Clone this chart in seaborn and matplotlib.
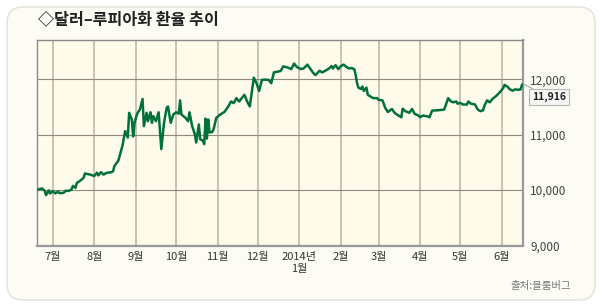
import matplotlib
matplotlib.use('Agg')
import matplotlib.pyplot as plt
import seaborn as sns
import pandas as pd
from matplotlib.patches import FancyBboxPatch

# ---- data ----
dates = [
    '2013-06-20', '2013-06-23', '2013-06-25', '2013-06-26', '2013-06-28', '2013-06-29',
    '2013-07-01', '2013-07-03', '2013-07-05', '2013-07-06', '2013-07-09', '2013-07-11',
    '2013-07-13', '2013-07-15', '2013-07-16', '2013-07-18', '2013-07-19', '2013-07-21',
    '2013-07-24', '2013-07-25', '2013-07-29', '2013-08-01', '2013-08-03', '2013-08-04',
    '2013-08-06', '2013-08-08', '2013-08-10', '2013-08-14', '2013-08-15', '2013-08-16',
    '2013-08-19', '2013-08-21', '2013-08-22', '2013-08-24', '2013-08-26', '2013-08-27',
    '2013-08-29', '2013-08-30', '2013-08-31', '2013-09-02', '2013-09-04', '2013-09-06',
    '2013-09-07', '2013-09-09', '2013-09-10', '2013-09-12', '2013-09-13', '2013-09-14',
    '2013-09-16', '2013-09-18', '2013-09-20', '2013-09-22', '2013-09-24', '2013-09-25',
    '2013-09-27', '2013-09-29', '2013-10-01', '2013-10-03', '2013-10-04', '2013-10-05',
    '2013-10-08', '2013-10-10', '2013-10-11', '2013-10-13', '2013-10-15', '2013-10-16',
    '2013-10-18', '2013-10-19', '2013-10-21', '2013-10-22', '2013-10-23', '2013-10-24',
    '2013-10-25', '2013-10-26', '2013-10-28', '2013-10-29', '2013-10-31', '2013-11-03',
    '2013-11-06', '2013-11-09', '2013-11-11', '2013-11-13', '2013-11-15', '2013-11-17',
    '2013-11-20', '2013-11-21', '2013-11-23', '2013-11-25', '2013-11-28', '2013-11-30',
    '2013-12-02', '2013-12-04', '2013-12-06', '2013-12-09', '2013-12-11', '2013-12-13',
    '2013-12-15', '2013-12-18', '2013-12-20', '2013-12-23', '2013-12-26', '2013-12-28',
    '2013-12-30', '2014-01-02', '2014-01-04', '2014-01-07', '2014-01-09', '2014-01-11',
    '2014-01-13', '2014-01-16', '2014-01-18', '2014-01-20', '2014-01-23', '2014-01-25',
    '2014-01-26', '2014-01-28', '2014-01-30', '2014-02-01', '2014-02-03', '2014-02-05',
    '2014-02-07', '2014-02-09', '2014-02-11', '2014-02-12', '2014-02-13', '2014-02-14',
    '2014-02-16', '2014-02-17', '2014-02-18', '2014-02-20', '2014-02-21', '2014-02-23',
    '2014-02-25', '2014-02-28', '2014-03-01', '2014-03-04', '2014-03-06', '2014-03-08',
    '2014-03-11', '2014-03-13', '2014-03-16', '2014-03-18', '2014-03-19', '2014-03-21',
    '2014-03-24', '2014-03-26', '2014-03-28', '2014-03-31', '2014-04-01', '2014-04-03',
    '2014-04-06', '2014-04-08', '2014-04-10', '2014-04-13', '2014-04-16', '2014-04-19',
    '2014-04-22', '2014-04-24', '2014-04-26', '2014-04-28', '2014-04-29', '2014-05-01',
    '2014-05-03', '2014-05-06', '2014-05-07', '2014-05-09', '2014-05-12', '2014-05-14',
    '2014-05-16', '2014-05-18', '2014-05-19', '2014-05-21', '2014-05-23', '2014-05-25',
    '2014-05-28', '2014-05-31', '2014-06-02', '2014-06-03', '2014-06-05', '2014-06-07',
    '2014-06-09', '2014-06-11', '2014-06-13', '2014-06-15', '2014-06-16', '2014-06-17',
]
rates = [
    10010, 10030, 9990, 9910, 9995, 9940,
    9980, 9940, 9975, 9945, 9950, 9990,
    9985, 10010, 10075, 10040, 10130, 10160,
    10220, 10300, 10280, 10255, 10315, 10265,
    10325, 10280, 10310, 10325, 10340, 10435,
    10535, 10710, 10800, 11065, 10950, 11395,
    11275, 10970, 11215, 11380, 11455, 11645,
    11155, 11395, 11245, 11405, 11215, 11335,
    11245, 11405, 10740, 11215, 11485, 11510,
    11215, 11365, 11405, 11380, 11620, 11365,
    11305, 11245, 11405, 11155, 11010, 10860,
    11185, 10920, 10890, 10830, 11290, 10930,
    11275, 11040, 11050, 11100, 11305, 11365,
    11410, 11510, 11600, 11570, 11660, 11600,
    11690, 11720, 11600, 11510, 12030, 11930,
    11790, 11990, 11995, 11990, 11930, 12125,
    12135, 12150, 12235, 12215, 12185, 12285,
    12225, 12185, 12195, 12265, 12195, 12125,
    12075, 12155, 12125, 12150, 12195, 12240,
    12195, 12255, 12185, 12240, 12265, 12225,
    12195, 12205, 12180, 12075, 11930, 11850,
    11825, 11870, 11790, 11850, 11720, 11690,
    11660, 11660, 11630, 11620, 11485, 11410,
    11465, 11395, 11345, 11315, 11470, 11425,
    11395, 11465, 11375, 11345, 11315, 11345,
    11335, 11315, 11435, 11440, 11445, 11455,
    11660, 11600, 11585, 11600, 11560, 11575,
    11545, 11545, 11600, 11560, 11545, 11455,
    11425, 11440, 11525, 11620, 11585, 11645,
    11705, 11780, 11840, 11900, 11870, 11820,
    11795, 11820, 11810, 11820, 11900, 11916,
]
month_ticks = ['2013-07-01', '2013-08-01', '2013-09-01', '2013-10-01', '2013-11-01',
               '2013-12-01', '2014-01-01', '2014-02-01', '2014-03-01', '2014-04-01',
               '2014-05-01', '2014-06-01']
month_labels = ['7월', '8월', '9월', '10월', '11월', '12월', '2014년\n1월',
                '2월', '3월', '4월', '5월', '6월']
y_ticks = [9000, 10000, 11000, 12000]
y_labels = ['9,000', '10,000', '11,000', '12,000']
last_label = '11,916'
title = '◇달러–루피아화 환율 추이'
source = '출처:블룸버그'

# ---- style ----
sns.set_theme(style='white')
plt.rcParams['font.family'] = ['Noto Sans CJK KR', 'DejaVu Sans']

W, H = 600, 306
fig = plt.figure(figsize=(W / 100, H / 100), dpi=100)
fig.patch.set_facecolor('white')

panel = FancyBboxPatch((0.07, 0.06), 5.88, 2.93,
                       boxstyle='round,pad=0,rounding_size=0.16',
                       transform=fig.dpi_scale_trans,
                       facecolor='#fcfbf4', edgecolor='#e2dfd4', lw=1.0, zorder=0)
fig.add_artist(panel)

ax = fig.add_axes([37.3 / W, 1 - 245.5 / H, (523.3 - 37.3) / W, (245.5 - 40) / H])
ax.set_facecolor('#fefbea')

df = pd.DataFrame({'date': pd.to_datetime(dates), 'rate': rates})
sns.lineplot(data=df, x='date', y='rate', ax=ax, color='#00703c', lw=1.8, zorder=5)

ax.set_xlim(pd.Timestamp('2013-06-19 12:00'), pd.Timestamp('2014-06-17'))
ax.set_ylim(9000, 12710)

ax.set_xticks(pd.to_datetime(month_ticks))
ax.set_xticklabels(month_labels)
ax.set_yticks(y_ticks)
ax.set_yticklabels(y_labels)
ax.yaxis.tick_right()
ax.set_xlabel('')
ax.set_ylabel('')

ax.tick_params(axis='x', length=0, pad=5, labelsize=8, labelcolor='#333333')
ax.tick_params(axis='y', length=0, pad=5, labelsize=8.5, labelcolor='#444444')

ax.xaxis.grid(True, color='#c4bfad', lw=1.3)
ax.yaxis.grid(True, color='#8e897d', lw=0.8)
ax.set_axisbelow(True)

for side, col, lw in [('left', '#8a8a8a', 1.0), ('top', '#8a8a8a', 1.0),
                      ('right', '#9a9a9a', 1.6), ('bottom', '#9a9a9a', 1.6)]:
    ax.spines[side].set_visible(True)
    ax.spines[side].set_color(col)
    ax.spines[side].set_linewidth(lw)

ax.annotate(last_label,
            xy=(df['date'].iloc[-1], df['rate'].iloc[-1]),
            xytext=(549, H - 97), textcoords='figure pixels',
            ha='center', va='center', fontsize=7.5, weight='bold', color='#222222',
            bbox=dict(boxstyle='square,pad=0.25', fc='#f6f6f4', ec='#b8b8b8', lw=0.8),
            arrowprops=dict(arrowstyle='-', color='#aaaaaa', lw=0.8,
                            shrinkA=0, shrinkB=0),
            annotation_clip=False, zorder=6)

fig.text(38 / W, 1 - 19 / H, title, ha='left', va='center', fontsize=11.6,
         weight='bold', color='#222222')
fig.text(571 / W, 1 - 286 / H, source, ha='right', va='center', fontsize=7.5,
         color='#777777')

fig.savefig('out.png', dpi=100, facecolor=fig.get_facecolor())
